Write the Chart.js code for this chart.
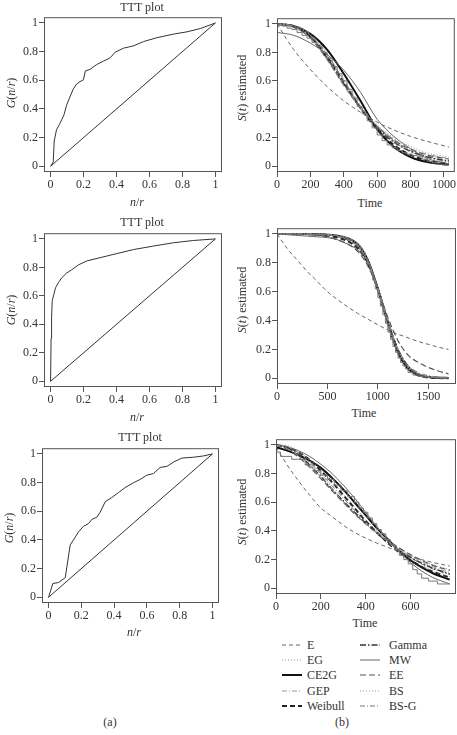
<!DOCTYPE html>
<html>
<head>
<meta charset="utf-8">
<script src="https://cdn.jsdelivr.net/npm/chart.js@4.4.0/dist/chart.umd.min.js"></script>
<style>
body{margin:0;background:#fff;width:457px;height:735px;position:relative;overflow:hidden;font-family:'Liberation Serif','DejaVu Serif',serif;color:#333}
canvas{position:absolute}
.lbl{position:absolute;font-size:12px;line-height:1;white-space:nowrap;transform:translate(-50%,-50%)}
.rot{transform:translate(-50%,-50%) rotate(-90deg)}
.leg{position:absolute;font-size:12px;line-height:1;white-space:nowrap}
.leg svg{position:absolute}
</style>
</head>
<body>
<canvas id="ttt1"></canvas>
<canvas id="ttt2"></canvas>
<canvas id="ttt3"></canvas>
<canvas id="surv1"></canvas>
<canvas id="surv2"></canvas>
<canvas id="surv3"></canvas>

<div class="lbl" style="left:142px;top:7px">TTT plot</div>
<div class="lbl rot" style="left:11px;top:93px"><i>G</i>(<i>n</i>/<i>r</i>)</div>
<div class="lbl" style="left:137px;top:202px"><i>n</i>/<i>r</i></div>

<div class="lbl" style="left:142px;top:222px">TTT plot</div>
<div class="lbl rot" style="left:11px;top:310px"><i>G</i>(<i>n</i>/<i>r</i>)</div>
<div class="lbl" style="left:137px;top:417px"><i>n</i>/<i>r</i></div>

<div class="lbl" style="left:140px;top:437px">TTT plot</div>
<div class="lbl rot" style="left:9px;top:528px"><i>G</i>(<i>n</i>/<i>r</i>)</div>
<div class="lbl" style="left:134px;top:632px"><i>n</i>/<i>r</i></div>

<div class="lbl rot" style="left:242px;top:88px"><i>S</i>(<i>t</i>) estimated</div>
<div class="lbl" style="left:370px;top:203px">Time</div>
<div class="lbl rot" style="left:242px;top:300px"><i>S</i>(<i>t</i>) estimated</div>
<div class="lbl" style="left:364px;top:413px">Time</div>
<div class="lbl rot" style="left:242px;top:512px"><i>S</i>(<i>t</i>) estimated</div>
<div class="lbl" style="left:365px;top:623px">Time</div>

<div class="lbl" style="left:110px;top:722px">(a)</div>
<div class="lbl" style="left:342px;top:722px">(b)</div>
<div id="legend"></div>

<script>
// TTT plots (n/r, G(n/r))
var tttU1 = [0, 0.016, 0.022, 0.036, 0.053, 0.067, 0.081, 0.097, 0.117, 0.138, 0.158, 0.178, 0.199, 0.211, 0.239, 0.28, 0.32, 0.361, 0.391, 0.442, 0.503, 0.564, 0.645, 0.746, 0.828, 0.909, 1];
var tttG1 = [0, 0.03, 0.176, 0.255, 0.29, 0.324, 0.358, 0.426, 0.483, 0.54, 0.574, 0.59, 0.603, 0.665, 0.676, 0.71, 0.733, 0.756, 0.795, 0.824, 0.84, 0.87, 0.897, 0.922, 0.938, 0.961, 1];
var tttU2 = [0, 0.003, 0.006, 0.01, 0.02, 0.03, 0.047, 0.067, 0.097, 0.128, 0.168, 0.219, 0.3, 0.402, 0.503, 0.625, 0.746, 0.868, 1];
var tttG2 = [0, 0.3, 0.45, 0.566, 0.61, 0.657, 0.692, 0.726, 0.76, 0.783, 0.817, 0.845, 0.868, 0.897, 0.925, 0.95, 0.973, 0.989, 1];
var tttU3 = [0, 0.026, 0.061, 0.102, 0.132, 0.152, 0.183, 0.213, 0.244, 0.264, 0.295, 0.315, 0.346, 0.386, 0.427, 0.467, 0.518, 0.559, 0.6, 0.64, 0.681, 0.722, 0.762, 0.813, 0.884, 0.945, 1];
var tttG3 = [0, 0.096, 0.103, 0.137, 0.365, 0.4, 0.457, 0.495, 0.514, 0.543, 0.559, 0.594, 0.667, 0.696, 0.731, 0.765, 0.799, 0.822, 0.852, 0.863, 0.906, 0.913, 0.943, 0.971, 0.977, 0.986, 1];
var diagU = [0, 1];
var diagG = [0, 1];
var unitTicks = [0, 0.2, 0.4, 0.6, 0.8, 1];

// fitted survival curves, top panel
var timeTop = [0, 100, 200, 300, 400, 500, 600, 700, 800, 900, 1030];
var eTop = [1.0, 0.82, 0.68, 0.56, 0.46, 0.38, 0.31, 0.255, 0.21, 0.175, 0.135];
var egTop = [1.0, 0.985, 0.92, 0.79, 0.61, 0.43, 0.28, 0.17, 0.1, 0.06, 0.03];
var ce2gTop = [1.0, 0.985, 0.93, 0.82, 0.65, 0.46, 0.26, 0.135, 0.065, 0.03, 0.012];
var gepTop = [1.0, 0.98, 0.9, 0.75, 0.57, 0.41, 0.285, 0.19, 0.125, 0.085, 0.055];
var weibullTop = [1.0, 0.98, 0.91, 0.77, 0.59, 0.41, 0.26, 0.15, 0.08, 0.04, 0.018];
var gammaTop = [1.0, 0.985, 0.91, 0.76, 0.58, 0.41, 0.27, 0.17, 0.105, 0.065, 0.035];
var mwTop = [0.94, 0.92, 0.865, 0.785, 0.675, 0.52, 0.33, 0.21, 0.125, 0.055, 0.018];
var eeTop = [1.0, 0.98, 0.9, 0.75, 0.57, 0.41, 0.28, 0.185, 0.12, 0.08, 0.05];
var bsTop = [1.0, 0.99, 0.92, 0.76, 0.57, 0.41, 0.29, 0.2, 0.14, 0.095, 0.065];
var bsgTop = [1.0, 0.99, 0.93, 0.79, 0.6, 0.42, 0.28, 0.18, 0.11, 0.07, 0.04];
var kmTimeTop = [0, 30, 60, 90, 120, 150, 180, 210, 240, 270, 300, 330, 360, 390, 420, 450, 480, 510, 540, 570, 600, 630, 660, 690, 720, 750, 780, 810, 840, 870, 900, 930, 960, 990, 1030];
var kmTop = [1.0, 0.99, 0.985, 0.97, 0.96, 0.94, 0.92, 0.9, 0.87, 0.84, 0.8, 0.76, 0.7, 0.65, 0.6, 0.54, 0.48, 0.42, 0.37, 0.32, 0.27, 0.22, 0.18, 0.15, 0.13, 0.11, 0.095, 0.085, 0.075, 0.07, 0.05, 0.035, 0.025, 0.015, 0.01];
var timeTicksTop = [0, 200, 400, 600, 800, 1000];

// middle panel
var timeMid = [0, 100, 200, 300, 400, 500, 600, 700, 800, 900, 1000, 1100, 1200, 1300, 1400, 1500, 1600, 1700];
var eMid = [1.0, 0.9, 0.82, 0.74, 0.67, 0.6, 0.545, 0.495, 0.45, 0.41, 0.37, 0.335, 0.305, 0.28, 0.255, 0.235, 0.215, 0.2];
var egMid = [1, 1, 1, 1, 0.999, 0.996, 0.988, 0.97, 0.93, 0.82, 0.615, 0.375, 0.18, 0.07, 0.025, 0.009, 0.003, 0.001];
var ce2gMid = [1, 1, 1, 1, 0.998, 0.995, 0.988, 0.97, 0.93, 0.82, 0.62, 0.38, 0.18, 0.065, 0.022, 0.008, 0.004, 0.002];
var gepMid = [1, 1, 1, 1, 0.998, 0.994, 0.985, 0.96, 0.915, 0.81, 0.62, 0.4, 0.2, 0.085, 0.035, 0.015, 0.007, 0.003];
var weibullMid = [1, 1, 1, 0.999, 0.997, 0.99, 0.975, 0.95, 0.9, 0.8, 0.62, 0.39, 0.19, 0.07, 0.02, 0.005, 0.001, 0];
var gammaMid = [1, 1, 1, 1, 0.999, 0.995, 0.985, 0.96, 0.91, 0.8, 0.61, 0.39, 0.2, 0.085, 0.03, 0.01, 0.004, 0.001];
var mwMid = [1, 0.995, 0.99, 0.985, 0.98, 0.975, 0.96, 0.93, 0.89, 0.81, 0.63, 0.4, 0.2, 0.08, 0.03, 0.012, 0.005, 0.002];
var eeMid = [1, 1, 0.999, 0.997, 0.99, 0.98, 0.96, 0.93, 0.88, 0.78, 0.62, 0.42, 0.26, 0.16, 0.11, 0.075, 0.05, 0.03];
var bsMid = [1, 1, 1, 1, 1, 0.998, 0.99, 0.97, 0.925, 0.81, 0.6, 0.37, 0.19, 0.08, 0.03, 0.012, 0.005, 0.002];
var bsgMid = [1, 1, 1, 1, 0.999, 0.995, 0.985, 0.96, 0.91, 0.8, 0.6, 0.38, 0.2, 0.09, 0.04, 0.018, 0.008, 0.004];
var kmTimeMid = [0, 300, 500, 600, 650, 700, 750, 800, 825, 850, 875, 900, 925, 950, 975, 1000, 1025, 1050, 1075, 1100, 1125, 1150, 1175, 1200, 1225, 1250, 1275, 1300, 1350, 1400, 1450, 1500, 1600, 1700];
var kmMid = [1, 1, 0.995, 0.99, 0.98, 0.975, 0.96, 0.935, 0.92, 0.9, 0.87, 0.83, 0.79, 0.74, 0.68, 0.62, 0.56, 0.5, 0.44, 0.38, 0.32, 0.27, 0.22, 0.18, 0.14, 0.11, 0.085, 0.065, 0.04, 0.022, 0.012, 0.008, 0.004, 0.002];
var timeTicksMid = [0, 500, 1000, 1500];

// bottom panel
var timeBot = [0, 50, 100, 150, 200, 250, 300, 350, 400, 450, 500, 550, 600, 650, 700, 775];
var eBot = [0.985, 0.86, 0.75, 0.65, 0.56, 0.5, 0.44, 0.39, 0.35, 0.315, 0.285, 0.255, 0.225, 0.2, 0.18, 0.155];
var egBot = [1, 0.99, 0.955, 0.9, 0.83, 0.75, 0.66, 0.57, 0.48, 0.4, 0.325, 0.26, 0.205, 0.16, 0.12, 0.08];
var ce2gBot = [0.985, 0.96, 0.93, 0.89, 0.84, 0.77, 0.69, 0.6, 0.51, 0.42, 0.34, 0.26, 0.195, 0.145, 0.105, 0.06];
var gepBot = [1, 0.975, 0.925, 0.855, 0.775, 0.69, 0.605, 0.525, 0.45, 0.385, 0.325, 0.27, 0.225, 0.185, 0.15, 0.11];
var weibullBot = [1, 0.985, 0.95, 0.895, 0.82, 0.74, 0.65, 0.56, 0.47, 0.39, 0.315, 0.25, 0.195, 0.15, 0.115, 0.075];
var gammaBot = [1, 0.98, 0.93, 0.86, 0.78, 0.69, 0.61, 0.53, 0.455, 0.385, 0.32, 0.265, 0.215, 0.175, 0.14, 0.1];
var mwBot = [1, 0.985, 0.96, 0.92, 0.865, 0.8, 0.72, 0.63, 0.53, 0.43, 0.34, 0.255, 0.18, 0.12, 0.075, 0.03];
var eeBot = [1, 0.97, 0.915, 0.845, 0.765, 0.68, 0.6, 0.52, 0.45, 0.385, 0.33, 0.28, 0.235, 0.195, 0.16, 0.125];
var bsBot = [1, 0.995, 0.96, 0.89, 0.8, 0.7, 0.61, 0.525, 0.45, 0.385, 0.325, 0.275, 0.23, 0.195, 0.165, 0.13];
var bsgBot = [1, 0.985, 0.945, 0.88, 0.8, 0.715, 0.63, 0.545, 0.465, 0.39, 0.325, 0.265, 0.215, 0.17, 0.135, 0.095];
var kmTimeBot = [0, 20, 70, 130, 170, 200, 230, 260, 290, 320, 350, 370, 390, 410, 430, 450, 470, 490, 510, 530, 550, 570, 590, 610, 630, 650, 680, 720, 775];
var kmBot = [1.0, 0.95, 0.92, 0.9, 0.86, 0.82, 0.79, 0.76, 0.72, 0.68, 0.64, 0.6, 0.56, 0.53, 0.49, 0.45, 0.41, 0.38, 0.34, 0.3, 0.27, 0.23, 0.2, 0.17, 0.13, 0.1, 0.07, 0.05, 0.03];
var timeTicksBot = [0, 200, 400, 600];

// line styles of the models
var styles = {
	'E':       {color: '#666', width: 1,   dash: [4, 3]},
	'EG':      {color: '#999', width: 1,   dash: [1, 2]},
	'CE2G':    {color: '#111', width: 2,   dash: []},
	'GEP':     {color: '#999', width: 1,   dash: [5, 2, 1, 2]},
	'Weibull': {color: '#222', width: 2,   dash: [5, 3]},
	'Gamma':   {color: '#333', width: 1.5, dash: [6, 2, 1.5, 2]},
	'MW':      {color: '#666', width: 1,   dash: []},
	'EE':      {color: '#555', width: 1.2, dash: [6, 3]},
	'BS':      {color: '#999', width: 1,   dash: [1, 2]},
	'BS-G':    {color: '#777', width: 1,   dash: [5, 2, 1, 2]}
};
var legendCols = [['E', 'EG', 'CE2G', 'GEP', 'Weibull'], ['Gamma', 'MW', 'EE', 'BS', 'BS-G']];

Chart.defaults.font.family = "'Liberation Serif', 'DejaVu Serif', serif";
Chart.defaults.font.size = 12;
Chart.defaults.color = '#333';

function xy(xs, ys) {
	return xs.map(function(x, i) { return {x: x, y: ys[i]}; });
}

function tttSets(u, g) {
	return [
		{data: xy(diagU, diagG), borderColor: '#333', borderWidth: 1, tension: 0},
		{data: xy(u, g), borderColor: '#333', borderWidth: 1, tension: 0}
	];
}

function survSets(t, km, kmT, m) {
	var sets = [{data: xy(kmT, km), borderColor: '#777', borderWidth: 1, stepped: 'after'}];
	var order = ['E', 'EG', 'GEP', 'Gamma', 'EE', 'BS', 'BS-G', 'MW', 'Weibull', 'CE2G'];
	order.forEach(function(name) {
		var s = styles[name];
		sets.push({
			label: name,
			data: xy(t, m[name]),
			borderColor: s.color,
			borderWidth: s.width,
			borderDash: s.dash,
			cubicInterpolationMode: 'monotone'
		});
	});
	return sets;
}

var framePlugin = {
	id: 'frame',
	afterDatasetsDraw: function(chart) {
		var a = chart.chartArea, c = chart.ctx;
		c.save();
		c.strokeStyle = '#555';
		c.lineWidth = 1;
		c.setLineDash([]);
		c.strokeRect(a.left + 0.5, a.top + 0.5, a.right - a.left - 1, a.bottom - a.top - 1);
		c.restore();
	}
};

function makeChart(id, box, xr, xTicks, yw, datasets) {
	var cv = document.getElementById(id);
	var padTop = 4, padRight = 1, xh = 22;
	cv.width = yw + (box[2] - box[0]) + padRight;
	cv.height = padTop + (box[3] - box[1]) + xh;
	cv.style.left = (box[0] - yw) + 'px';
	cv.style.top = (box[1] - padTop) + 'px';
	var axis = function(min, max, ticks, isX) {
		return {
			type: 'linear',
			min: min,
			max: max,
			afterFit: function(s) { if (isX) { s.height = xh; } else { s.width = yw; } },
			afterBuildTicks: function(s) { s.ticks = ticks.map(function(v) { return {value: v}; }); },
			grid: {drawOnChartArea: false, tickLength: 5, color: '#555'},
			border: {display: false},
			ticks: {padding: 1, maxRotation: 0, autoSkip: false, callback: function(v) { return String(v); }}
		};
	};
	return new Chart(cv, {
		type: 'line',
		data: {datasets: datasets},
		options: {
			responsive: false,
			animation: false,
			layout: {padding: {top: padTop, right: padRight, left: 0, bottom: 0}},
			elements: {point: {radius: 0}},
			plugins: {legend: {display: false}, tooltip: {enabled: false}},
			scales: {
				x: axis(xr[0], xr[1], xTicks, true),
				y: axis(-0.04, 1.04, unitTicks, false)
			}
		},
		plugins: [framePlugin]
	});
}

makeChart('ttt1', [44, 13, 222, 172], [-0.04, 1.04], unitTicks, 44, tttSets(tttU1, tttG1));
makeChart('ttt2', [44, 229, 222, 387], [-0.04, 1.04], unitTicks, 44, tttSets(tttU2, tttG2));
makeChart('ttt3', [42, 444, 219, 603], [-0.04, 1.04], unitTicks, 42, tttSets(tttU3, tttG3));

makeChart('surv1', [277, 14, 456, 172], [0, 1065], timeTicksTop, 30, survSets(timeTop, kmTop, kmTimeTop, {
	'E': eTop, 'EG': egTop, 'CE2G': ce2gTop, 'GEP': gepTop, 'Weibull': weibullTop,
	'Gamma': gammaTop, 'MW': mwTop, 'EE': eeTop, 'BS': bsTop, 'BS-G': bsgTop
}));
makeChart('surv2', [277, 224, 456, 384], [0, 1775], timeTicksMid, 30, survSets(timeMid, kmMid, kmTimeMid, {
	'E': eMid, 'EG': egMid, 'CE2G': ce2gMid, 'GEP': gepMid, 'Weibull': weibullMid,
	'Gamma': gammaMid, 'MW': mwMid, 'EE': eeMid, 'BS': bsMid, 'BS-G': bsgMid
}));
makeChart('surv3', [276, 435, 456, 594], [0, 803], timeTicksBot, 30, survSets(timeBot, kmBot, kmTimeBot, {
	'E': eBot, 'EG': egBot, 'CE2G': ce2gBot, 'GEP': gepBot, 'Weibull': weibullBot,
	'Gamma': gammaBot, 'MW': mwBot, 'EE': eeBot, 'BS': bsBot, 'BS-G': bsgBot
}));

// legend under the right column
var legend = document.getElementById('legend');
var colX = [[282, 307], [360, 389]];
legendCols.forEach(function(col, ci) {
	col.forEach(function(name, ri) {
		var s = styles[name];
		var y = 645 + ri * 15.2;
		var line = document.createElement('div');
		line.className = 'leg';
		line.style.left = colX[ci][0] + 'px';
		line.style.top = (y - 3) + 'px';
		line.innerHTML = '<svg width="20" height="6"><line x1="0" y1="3" x2="20" y2="3" stroke="' + s.color +
			'" stroke-width="' + s.width + '" stroke-dasharray="' + (s.dash.length ? s.dash.join(',') : 'none') + '"/></svg>';
		legend.appendChild(line);
		var txt = document.createElement('div');
		txt.className = 'leg';
		txt.style.left = colX[ci][1] + 'px';
		txt.style.top = (y - 6) + 'px';
		txt.textContent = name;
		legend.appendChild(txt);
	});
});
</script>
</body>
</html>
